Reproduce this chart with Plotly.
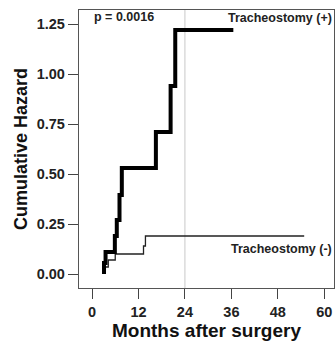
import plotly.graph_objects as go

# Tracheostomy (+) : event times (months) and cumulative hazard
plus_start = 3.1
plus_times = [3.1, 3.5, 5.9, 6.4, 7.1, 7.7, 16.5, 20.3, 21.5]
plus_hazard = [0.055, 0.11, 0.19, 0.27, 0.395, 0.53, 0.71, 0.94, 1.22]
plus_end = 36.5

# Tracheostomy (-)
minus_start = 3.3
minus_times = [3.3, 4.2, 6.0, 13.3, 13.8]
minus_hazard = [0.035, 0.07, 0.10, 0.14, 0.19]
minus_end = 54.8

x_ticks = [0, 12, 24, 36, 48, 60]
y_ticks = [0.00, 0.25, 0.50, 0.75, 1.00, 1.25]
ref_month = 24

FONT = "Liberation Sans"

def step_xy(start, times, haz, end):
    xs = [start] + times + [end]
    ys = [0] + haz + [haz[-1]]
    return xs, ys

fig = go.Figure()

fig.add_shape(type="line", x0=ref_month, x1=ref_month, y0=0, y1=1, yref="paper",
              line=dict(color="#c8c8c8", width=1), layer="below")

mx, my = step_xy(minus_start, minus_times, minus_hazard, minus_end)
fig.add_trace(go.Scatter(x=mx, y=my, mode="lines", line=dict(color="#222", width=1.3, shape="hv"),
                         showlegend=False, hoverinfo="skip"))
px_, py_ = step_xy(plus_start, plus_times, plus_hazard, plus_end)
fig.add_trace(go.Scatter(x=px_, y=py_, mode="lines", line=dict(color="#000", width=4, shape="hv"),
                         showlegend=False, hoverinfo="skip"))

fig.add_annotation(x=0.05, y=1.284, xref="x", yref="y", text="<b>p = 0.0016</b>", showarrow=False,
                   xanchor="left", yanchor="middle", font=dict(family=FONT, size=12.5, color="#222"))
fig.add_annotation(x=62.4, y=1.28, xref="x", yref="y", text="<b>Tracheostomy (+)</b>", showarrow=False,
                   xanchor="right", yanchor="middle", font=dict(family=FONT, size=12.5, color="#222"))
fig.add_annotation(x=62.4, y=0.125, xref="x", yref="y", text="<b>Tracheostomy (-)</b>", showarrow=False,
                   xanchor="right", yanchor="middle", font=dict(family=FONT, size=12.5, color="#222"))

fig.update_layout(
    width=336, height=342,
    margin=dict(l=79, r=2, t=10, b=54),
    paper_bgcolor="white", plot_bgcolor="white",
    font=dict(family=FONT, color="#222"),
)
fig.update_xaxes(range=[-3.36, 62.5], tickvals=x_ticks, ticktext=[f"<b>{v}</b>" for v in x_ticks],
                 ticks="outside", ticklen=10, tickwidth=1.3, tickcolor="#444",
                 showline=True, linecolor="#555", linewidth=1.3, mirror=True,
                 showgrid=False, zeroline=False,
                 tickfont=dict(family=FONT, size=14.5, color="#222"),
                 title=dict(text="<b>Months after surgery</b>", font=dict(family=FONT, size=19, color="#111"),
                            standoff=2))
fig.update_yaxes(range=[-0.07, 1.32], tickvals=y_ticks, ticktext=[f"<b>{v:.2f}</b>" for v in y_ticks],
                 ticks="outside", ticklen=10, tickwidth=1.3, tickcolor="#444",
                 showline=True, linecolor="#555", linewidth=1.3, mirror=True,
                 showgrid=False, zeroline=False,
                 tickfont=dict(family=FONT, size=14.5, color="#222"),
                 title=dict(text="<b>Cumulative Hazard</b>", font=dict(family=FONT, size=18, color="#111"),
                            standoff=4))

fig.write_html("out.html")
